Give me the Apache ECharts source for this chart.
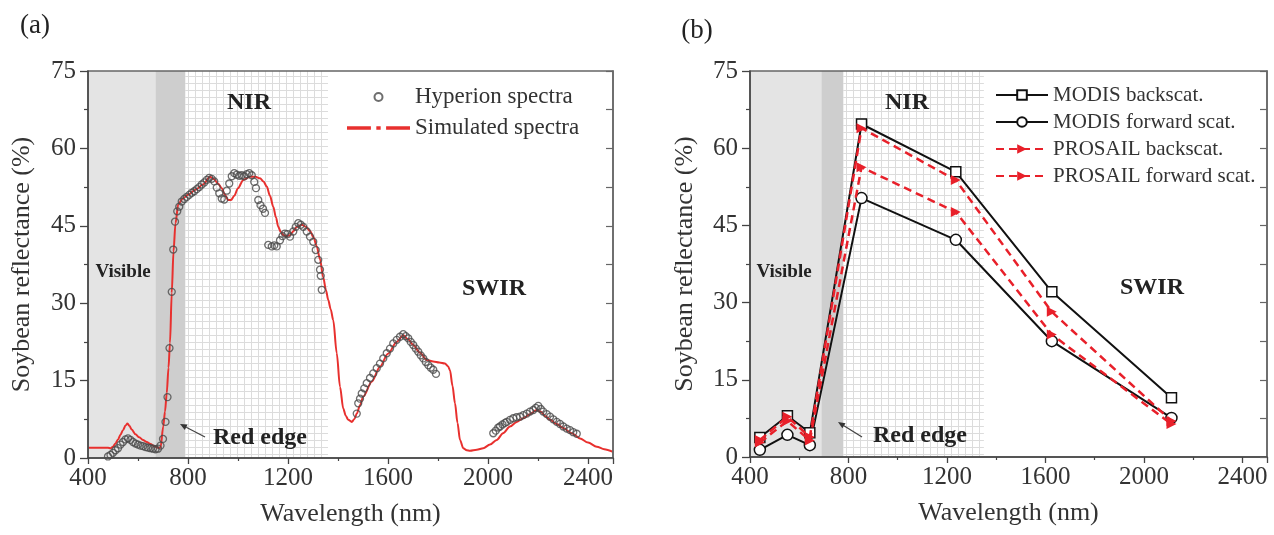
<!DOCTYPE html>
<html><head><meta charset="utf-8">
<script src="https://cdn.jsdelivr.net/npm/echarts@6/dist/echarts.min.js"></script>
<style>html,body{margin:0;padding:0;background:#fff}#c{width:1274px;height:535px}</style>
</head><body><div id="c"></div>
<script>
// ---------- DATA ----------
// Panel (a): Hyperion spectra (wavelength nm, reflectance %)
const hyperionVNIR = [[480,0.3],[490,0.6],[500,1.0],[510,1.5],[520,1.9],[530,2.6],[540,3.1],[550,3.6],[560,3.8],[570,3.5],[580,3.1],[590,2.8],[600,2.6],[610,2.4],[620,2.3],[630,2.1],[640,2.0],[650,1.9],[660,1.8],[670,1.7],[680,1.8],[690,2.4],[700,3.7],[710,7.0],[718,11.8],[726,21.3],[735,32.2],[741,40.4],[748,45.8],[757,47.8],[765,48.7],[775,49.7],[785,50.2],[795,50.6],[805,51.0],[815,51.4],[825,51.7],[835,52.1],[845,52.5],[855,53.0],[865,53.4],[875,53.9],[885,54.3],[895,54.1],[905,53.6],[915,52.4],[925,51.3],[935,50.3],[945,50.1],[955,51.8],[965,53.2],[975,54.6],[985,55.2],[995,54.9],[1005,54.7],[1015,54.8],[1025,54.6],[1035,55.0],[1045,55.2],[1055,54.8],[1065,53.5],[1072,52.3],[1081,50.0],[1090,49.0],[1100,48.3],[1108,47.5],[1121,41.3],[1135,41.0],[1145,41.2],[1155,41.0],[1168,42.2],[1178,43.0],[1188,43.5],[1198,43.4],[1208,42.9],[1221,43.9],[1231,44.8],[1241,45.5],[1251,45.2],[1261,44.8],[1275,43.9],[1288,42.9],[1301,41.9],[1311,40.3],[1321,38.4],[1328,36.5],[1331,35.3],[1335,32.6]];
const hyperionSWIR1 = [[1475,8.6],[1481,10.6],[1488,11.5],[1495,12.5],[1505,13.5],[1515,14.5],[1528,15.5],[1541,16.4],[1555,17.4],[1568,18.3],[1581,19.3],[1595,20.3],[1608,21.2],[1621,22.2],[1635,22.9],[1648,23.5],[1661,24.0],[1671,23.6],[1681,23.2],[1691,22.5],[1701,21.9],[1711,21.2],[1721,20.6],[1731,19.9],[1741,19.3],[1751,18.6],[1761,18.0],[1771,17.5],[1781,17.1],[1792,16.3]];
const hyperionSWIR2 = [[2021,4.8],[2031,5.3],[2041,5.9],[2048,6.1],[2058,6.5],[2068,6.8],[2075,7.0],[2088,7.4],[2101,7.7],[2114,7.9],[2128,8.0],[2141,8.3],[2155,8.6],[2168,9.0],[2181,9.3],[2191,9.7],[2201,10.1],[2211,9.5],[2221,9.0],[2235,8.5],[2248,8.0],[2261,7.5],[2275,7.0],[2288,6.6],[2301,6.1],[2315,5.7],[2328,5.4],[2341,5.0],[2355,4.7]];
// Panel (a): simulated spectra
const simulated = [[400,2.0],[420,2.0],[440,2.0],[460,2.0],[480,2.0],[490,1.9],[500,2.2],[510,2.8],[520,3.6],[530,4.5],[540,5.4],[550,6.3],[558,6.7],[566,6.2],[575,5.5],[590,4.6],[605,4.0],[620,3.5],[635,3.1],[650,2.7],[665,2.3],[680,2.0],[690,2.0],[701,6.1],[708,9.0],[715,12.6],[722,17.5],[728,22.3],[735,32.0],[742,40.0],[750,45.5],[761,49.2],[780,50.3],[800,51.0],[830,52.0],[860,53.0],[888,54.5],[905,54.0],[920,53.2],[935,52.3],[948,51.0],[960,50.0],[972,50.0],[985,50.8],[1000,52.3],[1021,53.9],[1048,54.5],[1070,54.5],[1088,54.2],[1102,53.6],[1115,52.6],[1128,50.8],[1141,48.7],[1152,46.6],[1161,44.8],[1171,43.8],[1181,43.2],[1195,43.0],[1208,43.2],[1222,44.0],[1235,44.8],[1255,45.2],[1272,44.8],[1288,44.0],[1302,42.8],[1315,41.0],[1328,38.5],[1341,35.0],[1352,32.5],[1361,30.6],[1371,28.8],[1381,26.7],[1395,20.3],[1408,13.8],[1421,9.6],[1431,8.2],[1441,7.4],[1455,7.0],[1465,7.5],[1475,8.6],[1488,10.2],[1501,11.9],[1535,14.8],[1568,17.7],[1600,20.2],[1635,22.5],[1661,23.8],[1680,23.0],[1701,21.9],[1728,20.4],[1755,19.0],[1781,18.7],[1805,18.5],[1828,18.3],[1840,17.8],[1848,17.0],[1858,14.0],[1868,10.6],[1878,6.8],[1888,3.5],[1901,1.9],[1915,1.5],[1928,1.4],[1955,1.6],[1981,1.9],[2008,2.6],[2035,3.5],[2060,4.8],[2088,6.1],[2115,7.0],[2141,7.7],[2168,8.5],[2195,9.3],[2210,9.0],[2230,8.1],[2248,7.4],[2275,6.6],[2301,5.8],[2335,4.8],[2368,3.8],[2400,3.0],[2435,2.2],[2465,1.7],[2500,1.2]];
// Panel (b): MODIS band wavelengths as plotted (nm) and reflectances (%)
const bandWavelengths = [440, 552, 643, 853, 1236, 1626, 2112];
const modisBack    = [3.8, 8.0, 4.7, 64.7, 55.4, 32.1, 11.5];
const modisForward = [1.4, 4.3, 2.3, 50.3, 42.2, 22.5, 7.6];
const prosailBack  = [3.3, 7.8, 3.9, 63.9, 53.8, 28.2, 7.0];
const prosailFwd   = [2.8, 7.0, 3.2, 56.3, 47.6, 23.8, 6.4];
// spectral regions (nm)
const regionsA = {visible:[400,670], redEdge:[670,790], nir:[790,1360]};
const regionsB = {visible:[400,690], redEdge:[690,780], nir:[780,1350]};
// axis ticks
const xTicks = {min:400, max:2500, interval:400};
const yTicks = {min:0, max:75, interval:15};

// ---------- STYLE ----------
const FF = "'Liberation Serif','Times New Roman',serif";
const TXT = '#333';
const AX = '#444';

const pc = document.createElement('canvas'); pc.width = 7; pc.height = 7;
const g = pc.getContext('2d');
g.fillStyle = '#fff'; g.fillRect(0,0,7,7);
g.strokeStyle = '#dcdcdc'; g.lineWidth = 1;
g.beginPath(); g.moveTo(6.5,0); g.lineTo(6.5,7); g.moveTo(0,6.5); g.lineTo(7,6.5); g.stroke();
const gridPattern = {image: pc, repeat: 'repeat'};

function zip(xs, ys){ return xs.map((x,i)=>[x, ys[i]]); }
const plain = v => String(v);

function xAxis(gi){
  return {gridIndex:gi, type:'value', min:xTicks.min, max:xTicks.max, interval:xTicks.interval, z:5,
    axisLine:{lineStyle:{color:AX, width:1.5}},
    axisTick:{length:6, lineStyle:{color:AX, width:1.3}},
    minorTick:{show:true, splitNumber:2, length:3, lineStyle:{color:AX, width:1.2}},
    axisLabel:{showMaxLabel:false, formatter:plain, fontSize:25, color:TXT, fontFamily:FF, margin:8},
    splitLine:{show:false}, minorSplitLine:{show:false},
    name:'Wavelength (nm)', nameLocation:'middle', nameGap:43,
    nameTextStyle:{fontSize:26, color:TXT, fontFamily:FF}};
}
function yAxisL(gi, gap){
  return {gridIndex:gi, type:'value', min:yTicks.min, max:yTicks.max, interval:yTicks.interval, position:'left', z:5,
    axisLine:{show:true, lineStyle:{color:AX, width:1.5}},
    axisTick:{show:true, length:8, lineStyle:{color:AX, width:1.3}},
    minorTick:{show:true, splitNumber:2, length:4, lineStyle:{color:AX, width:1.2}},
    axisLabel:{formatter:plain, fontSize:25, color:TXT, fontFamily:FF, margin:12},
    splitLine:{show:false},
    name:'Soybean reflectance (%)', nameLocation:'middle', nameGap:gap, nameRotate:90,
    nameTextStyle:{fontSize:26, color:TXT, fontFamily:FF}};
}
function yAxisR(gi){
  return {gridIndex:gi, type:'value', min:0, max:75, interval:7.5, position:'right', z:5,
    axisLine:{show:true, lineStyle:{color:'#666', width:1.5}},
    axisTick:{show:true, inside:true, length:7, lineStyle:{color:'#666', width:1.2}},
    axisLabel:{show:false}, splitLine:{show:false}};
}
function bgSeries(xi, yi, r){
  return {type:'line', xAxisIndex:xi, yAxisIndex:yi, data:[], silent:true, z:1,
    markArea:{silent:true, label:{show:false}, data:[
      [{xAxis:r.visible[0], itemStyle:{color:'#e4e4e4'}},{xAxis:r.visible[1]}],
      [{xAxis:r.redEdge[0], itemStyle:{color:'#cecece'}},{xAxis:r.redEdge[1]}],
      [{xAxis:r.nir[0], itemStyle:{color:gridPattern}},{xAxis:r.nir[1]}]
    ]}};
}

function txt(x, y, s, size, bold, align){
  return {type:'text', x:x, y:y, z:10, silent:true,
    style:{text:s, font:(bold?'bold ':'')+size+'px '+FF, fill:'#222', align:align||'center', verticalAlign:'middle'}};
}
function arrow(x1,y1,x2,y2){
  const dx=x2-x1, dy=y2-y1, L=Math.hypot(dx,dy), ux=dx/L, uy=dy/L, px=-uy, py=ux;
  const bx=x2-7*ux, by=y2-7*uy;
  return [
    {type:'line', z:10, silent:true, shape:{x1:x1,y1:y1,x2:bx,y2:by}, style:{stroke:'#444', lineWidth:1.3}},
    {type:'polygon', z:10, silent:true, shape:{points:[[x2,y2],[bx+3*px,by+3*py],[bx-3*px,by-3*py]]}, style:{fill:'#333'}}
  ];
}

const hyperion = hyperionVNIR.concat(hyperionSWIR1, hyperionSWIR2);
const RED = '#e8302e';
const RED2 = '#e8202a';

const option = {
  backgroundColor:'#fff',
  animation:false,
  grid:[
    {left:88, top:71, width:525, height:387, show:true, borderColor:'#666', borderWidth:1.5, backgroundColor:'transparent', z:4, outerBoundsMode:'none'},
    {left:750, top:71, width:517, height:386, show:true, borderColor:'#666', borderWidth:1.5, backgroundColor:'transparent', z:4, outerBoundsMode:'none'}
  ],
  xAxis:[xAxis(0), xAxis(1)],
  yAxis:[yAxisL(0,53), yAxisR(0), yAxisL(1,52), yAxisR(1)],
  legend:[
    {left:347, top:81.5, orient:'vertical', itemWidth:63, itemHeight:8, itemGap:0, padding:0, selectedMode:false,
     textStyle:{fontSize:23, lineHeight:31, fontFamily:FF, color:TXT},
     data:[{name:'Hyperion spectra', icon:'circle'},
           {name:'Simulated spectra', icon:'path://M0,0h22v3h-22z M27,0h4v3h-4z M36,0h22v3h-22z'}]},
    {left:995, top:81.5, orient:'vertical', itemWidth:52, itemHeight:12, itemGap:0, padding:0, selectedMode:false,
     textStyle:{fontSize:21, lineHeight:27, fontFamily:FF, color:TXT},
     data:['MODIS backscat.','MODIS forward scat.','PROSAIL backscat.','PROSAIL forward scat.']}
  ],
  series:[
    bgSeries(0,0,regionsA),
    bgSeries(1,2,regionsB),
    {name:'Simulated spectra', type:'line', xAxisIndex:0, yAxisIndex:0, data:simulated, color:RED,
     symbol:'none', showSymbol:false, smooth:0.3, smoothMonotone:'x', z:2,
     lineStyle:{color:RED, width:2}},
    {name:'Hyperion spectra', type:'scatter', xAxisIndex:0, yAxisIndex:0, data:hyperion, z:3,
     symbol:'circle', symbolSize:7,
     itemStyle:{color:'rgba(255,255,255,0)', borderColor:'#4a4a4a', borderWidth:1.3}},
    {name:'MODIS backscat.', type:'line', xAxisIndex:1, yAxisIndex:2, data:zip(bandWavelengths, modisBack), z:3,
     symbol:'rect', symbolSize:10, color:'#111',
     itemStyle:{color:'#fff', borderColor:'#111', borderWidth:1.5},
     lineStyle:{color:'#111', width:2}},
    {name:'MODIS forward scat.', type:'line', xAxisIndex:1, yAxisIndex:2, data:zip(bandWavelengths, modisForward), z:3,
     symbol:'circle', symbolSize:11, color:'#111',
     itemStyle:{color:'#fff', borderColor:'#111', borderWidth:1.5},
     lineStyle:{color:'#111', width:2}},
    {name:'PROSAIL backscat.', type:'line', xAxisIndex:1, yAxisIndex:2, data:zip(bandWavelengths, prosailBack), z:4,
     symbol:'triangle', symbolSize:10, symbolRotate:-90, color:RED2,
     itemStyle:{color:RED2},
     lineStyle:{color:RED2, width:2.5, type:[8,5]}},
    {name:'PROSAIL forward scat.', type:'line', xAxisIndex:1, yAxisIndex:2, data:zip(bandWavelengths, prosailFwd), z:4,
     symbol:'triangle', symbolSize:10, symbolRotate:-90, color:RED2,
     itemStyle:{color:RED2},
     lineStyle:{color:RED2, width:2.5, type:[8,5]}}
  ],
  graphic:[
    txt(35, 26, '(a)', 27, false),
    txt(697, 31, '(b)', 27, false),
    txt(249, 103, 'NIR', 24, true),
    txt(123, 272, 'Visible', 19, true),
    txt(494, 289, 'SWIR', 24, true),
    txt(213, 438, 'Red edge', 24, true, 'left'),
    txt(907, 103, 'NIR', 24, true),
    txt(784, 272, 'Visible', 19, true),
    txt(1152, 288, 'SWIR', 24, true),
    txt(873, 436, 'Red edge', 24, true, 'left')
  ].concat(arrow(205,437,180,424), arrow(862,437,838,422))
};

const chart = echarts.init(document.getElementById('c'), null, {renderer:'canvas'});
chart.setOption(option);
</script></body></html>
